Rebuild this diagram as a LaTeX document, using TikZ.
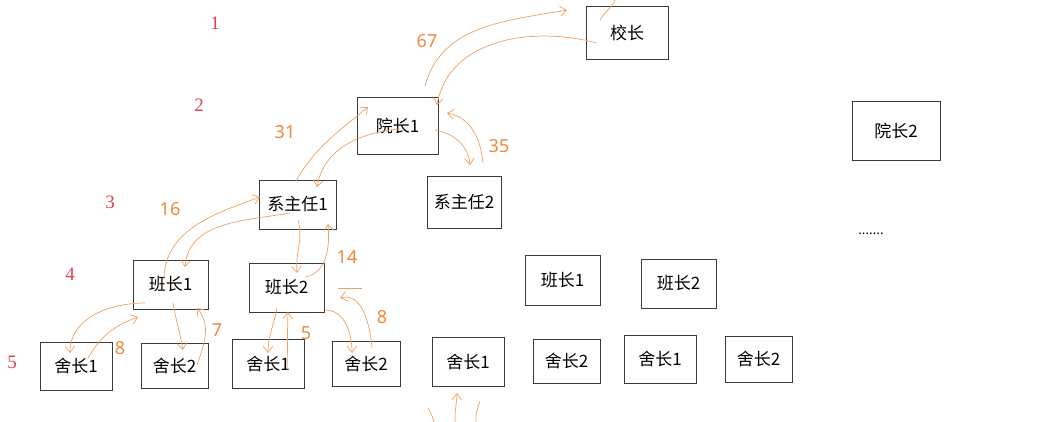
\documentclass[tikz,border=0pt]{standalone}
\usepackage{fontspec}
\newfontfamily\cjk{Noto Sans CJK SC}
\newfontfamily\numsans{Noto Sans}
\newfontfamily\numserif{Liberation Serif}
\usepackage{xcolor}
\definecolor{level}{HTML}{E0404F}
\definecolor{count}{HTML}{F0883A}
\definecolor{stroke}{HTML}{F0A060}
\definecolor{frame}{HTML}{3A3A3A}
\usepackage{tikz}
\usetikzlibrary{arrows.meta}

\begin{document}
\begin{tikzpicture}[x=1pt, y=-1pt,
                   box/.style={draw=frame, line width=0.8pt, inner sep=0pt, minimum width=74pt,
                               minimum height=49pt, font=\cjk\fontsize{17}{20}\selectfont},
                   wide/.style={box, minimum width=82pt, minimum height=55pt},
                   slim/.style={box, minimum width=67pt, minimum height=45pt},
                   lvl/.style={text=level, font=\numserif\fontsize{19}{20}\selectfont},
                   cnt/.style={text=count, font=\numsans\fontsize{18}{20}\selectfont},
                   hand/.style={draw=stroke, line width=0.7pt},
                   pass/.style={hand, -{Straight Barb[length=2.2mm,width=3.4mm]}}]
    \useasboundingbox (0,0) rectangle (1063,421);
    \node[wide, minimum height=53pt] (xz)  at (627,32.5)  {校长};
    \node[wide, minimum width=81pt, minimum height=57pt] (yz1) at (397.5,125.5) {院长1};
    \node[wide, minimum width=88pt, minimum height=59pt] (yz2) at (896,130.5) {院长2};
    \node[box, minimum width=77pt] (xzr1) at (297.5,204.5) {系主任1};
    \node[box, minimum height=52pt] (xzr2) at (464,202) {系主任2};
    \node[box, minimum width=75pt] (bz1) at (170.5,284.5) {班长1};
    \node[box, minimum width=75pt] (bz2) at (286.5,287.5) {班长2};
    \node[box, minimum width=75pt, minimum height=50pt] (bz3) at (562.5,280) {班长1};
    \node[box, minimum width=75pt] (bz4) at (678.5,283.5) {班长2};
    \node[box, minimum width=72pt, minimum height=48pt] (sz1) at (76,366) {舍长1};
    \node[slim] (sz2) at (174.5,365.5) {舍长2};
    \node[box, minimum width=72pt] (sz3) at (268,363.5) {舍长1};
    \node[slim, minimum width=68pt] (sz4) at (366,363.5) {舍长2};
    \node[box, minimum width=72pt] (sz5) at (468,361.5) {舍长1};
    \node[slim, minimum height=44pt] (sz6) at (566.5,361) {舍长2};
    \node[box, minimum width=72pt, minimum height=48pt] (sz7) at (660,359) {舍长1};
    \node[slim, minimum height=46pt] (sz8) at (758.5,359) {舍长2};
    \node[font=\cjk\fontsize{13}{14}\selectfont] (more) at (871,234) {.......};

    \node[lvl] (l1) at (215,23)  {1};
    \node[lvl] (l2) at (199,105) {2};
    \node[lvl] (l3) at (110,202) {3};
    \node[lvl] (l4) at (70,274)  {4};
    \node[lvl] (l5) at (12,362)  {5};

    \node[cnt] (c67) at (427,41)  {67};
    \node[cnt] (c31) at (285,132) {31};
    \node[cnt] (c35) at (499,146) {35};
    \node[cnt] (c16) at (170,209) {16};
    \node[cnt] (c14) at (347,257) {14};
    \node[cnt] (c7)  at (217,330) {7};
    \node[cnt] (c8a) at (120,348) {8};
    \node[cnt] (c5)  at (306,333) {5};
    \node[cnt] (c8b) at (382,317) {8};

    \coordinate (xztop) at (616,-2);
    \coordinate (low1) at (434,423);
    \coordinate (low2) at (455,423);
    \coordinate (low3) at (476,423);

    \draw[pass] ([shift={(12,-8)}]sz1.center) to[out=60,in=200] ([shift={(-32.5,32.5)}]bz1.center);
    \draw[pass] ([shift={(-25.5,18.5)}]bz1.center) to[out=180,in=90] ([shift={(-6,-13)}]sz1.center);
    \draw[pass] ([shift={(2.5,18.5)}]bz1.center) to[out=-80,in=100] ([shift={(8.5,-15.5)}]sz2.center);
    \draw[pass] ([shift={(22.5,-0.5)}]sz2.center) to[out=70,in=-50] ([shift={(26.5,23.5)}]bz1.center);
    \draw[pass] ([shift={(-6.5,-4.5)}]bz1.center) to[out=90,in=200] ([shift={(-37.5,-7.5)}]xzr1.center);
    \draw[pass] ([shift={(-7.5,8.5)}]xzr1.center) to[out=190,in=85] ([shift={(14.5,-17.5)}]bz1.center);
    \draw[pass] ([shift={(-1.5,-23.5)}]xzr1.center) to[out=60,in=220] ([shift={(-29.5,-18.5)}]yz1.center);
    \draw[pass] ([shift={(2.5,3.5)}]yz1.center) to[out=185,in=80] ([shift={(19.5,-17.5)}]xzr1.center);
    \draw[pass] ([shift={(27.5,-39.5)}]yz1.center) to[out=75,in=190] ([shift={(-60,-22.5)}]xz.center);
    \draw[pass] ([shift={(-30,10.5)}]xz.center) to[out=165,in=80] ([shift={(39.5,-20.5)}]yz1.center);
    \draw[hand] ([shift={(-27,-12.5)}]xz.center) to[out=60,in=-110] (xztop);
    \draw[pass] ([shift={(37.5,4.5)}]yz1.center) to[out=-10,in=95] ([shift={(6,-37)}]xzr2.center);
    \draw[pass] ([shift={(19,-39)}]xzr2.center) to[out=95,in=-10] ([shift={(49.5,-12.5)}]yz1.center);
    \draw[pass] ([shift={(0.5,15.5)}]xzr1.center) to[out=-75,in=95] ([shift={(10.5,-14.5)}]bz2.center);
    \draw[pass] ([shift={(18.5,-10.5)}]bz2.center) to[out=10,in=-85] ([shift={(30.5,19.5)}]xzr1.center);
    \draw[pass] ([shift={(-9.5,20.5)}]bz2.center) to[out=-100,in=90] ([shift={(0,-10.5)}]sz3.center);
    \draw[pass] ([shift={(19,6.5)}]sz3.center) to[out=88,in=-92] ([shift={(1.5,24.5)}]bz2.center);
    \draw[pass] ([shift={(38.5,22.5)}]bz2.center) to[out=0,in=90] ([shift={(-14,-10.5)}]sz4.center);
    \draw[pass] ([shift={(6,-15.5)}]sz4.center) to[out=95,in=15] ([shift={(53.5,10.5)}]bz2.center);
    \draw[hand] (338,288) -- (362,288);
    \draw[pass] (low2) to[out=92,in=-92] ([shift={(-11,31.5)}]sz5.center);
    \draw[hand] (low1) to[out=100,in=-60] (428,408);
    \draw[hand] (low3) to[out=95,in=-110] (480,401);
\end{tikzpicture}
\end{document}
